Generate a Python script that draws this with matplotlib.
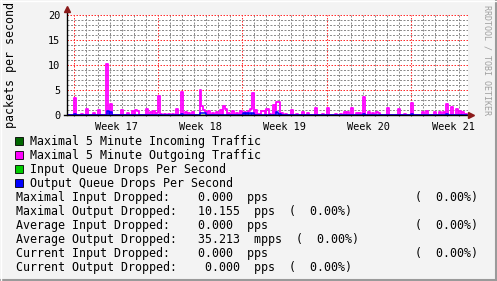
import numpy as np
import matplotlib.pyplot as plt
from matplotlib.patches import Rectangle
from matplotlib.lines import Line2D

# time axis: 2 hour samples over ~33 days (hours since graph start)
total_hours = 800
week_start_hours = [14, 182, 350, 518, 686]
week_labels = ["Week 17", "Week 18", "Week 19", "Week 20", "Week 21"]
y_ticks = [0, 5, 10, 15, 20]

# maximal 5 minute outgoing traffic (packets per second)
out_hours = [14, 28, 38, 52, 62, 78, 86, 108, 120, 130, 136, 140, 158, 166, 172,
             178, 182, 186, 194, 202, 210, 218, 228, 236, 242, 250, 266, 268, 272,
             276, 282, 290, 298, 306, 312, 316, 322, 330, 338, 346, 354, 362, 366,
             370, 376, 382, 388, 392, 398, 402, 410, 416, 420, 426, 434, 446, 456,
             468, 478, 494, 508, 518, 534, 544, 552, 558, 566, 576, 582, 590, 600,
             608, 616, 620, 638, 660, 672, 686, 708, 716, 732, 742, 750, 756, 766,
             776, 782, 788, 794]
out_values = [3.5, 0.3, 1.2, 0.4, 1.0, 10.2, 2.3, 1.1, 0.5, 0.8, 1.0, 0.8, 1.2, 0.6, 0.8,
              0.5, 3.9, 0.3, 0.3, 0.3, 0.3, 1.2, 4.7, 0.7, 0.5, 0.6, 5.0, 1.8, 1.0,
              0.6, 0.8, 0.4, 0.7, 1.0, 1.9, 1.2, 0.5, 0.8, 0.4, 0.8, 0.6, 0.8, 1.2,
              4.4, 1.0, 0.3, 0.8, 0.8, 1.3, 0.3, 2.1, 2.6, 2.7, 0.4, 0.3, 1.1, 0.2,
              0.7, 0.4, 1.5, 0.2, 1.5, 0.2, 0.2, 0.6, 0.6, 1.5, 0.5, 0.4, 3.6, 0.6,
              0.4, 0.7, 0.5, 1.5, 1.3, 0.2, 2.4, 0.6, 0.8, 0.7, 0.6, 0.6, 2.2, 1.6,
              1.2, 0.8, 0.6, 0.3]

# output queue drops per second
drop_hours = [14, 80, 86, 228, 266, 270, 274, 352, 358, 364, 370, 416, 422, 590, 686, 756]
drop_values = [0.2, 0.8, 0.6, 0.3, 0.5, 0.5, 0.4, 0.4, 0.5, 0.4, 0.4, 0.6, 0.3, 0.3, 0.3, 0.3]

legend_labels = ["Maximal 5 Minute Incoming Traffic", "Maximal 5 Minute Outgoing Traffic",
                 "Input Queue Drops Per Second", "Output Queue Drops Per Second"]
legend_colors = ["#006600", "#ff00ff", "#00cc00", "#0000ff"]

stat_lines = [
    "Maximal Input Dropped:    0.000  pps                     (  0.00%)",
    "Maximal Output Dropped:   10.155  pps  (  0.00%)",
    "Average Input Dropped:    0.000  pps                     (  0.00%)",
    "Average Output Dropped:   35.213  mpps  (  0.00%)",
    "Current Input Dropped:    0.000  pps                     (  0.00%)",
    "Current Output Dropped:    0.000  pps  (  0.00%)",
]

W, H = 497, 281
MONO = "DejaVu Sans Mono"


def fx(x):
    return x / W


def fy(y):
    return 1 - y / H


t = np.arange(0, total_hours, 2)
out_series = np.zeros(len(t))
for h, v in zip(out_hours, out_values):
    i = h // 2
    out_series[i:i + 2] = v
drop_series = np.zeros(len(t))
for h, v in zip(drop_hours, drop_values):
    i = h // 2
    drop_series[i:i + 2] = v
zero_series = np.zeros(len(t))

fig = plt.figure(figsize=(W / 100, H / 100), dpi=100, facecolor="#f3f3f3")
ax = fig.add_axes([fx(67), fy(115), fx(401), 100 / H])
ax.set_facecolor("white")
ax.set_xlim(0, total_hours)
ax.set_ylim(0, 20)
for s in ax.spines.values():
    s.set_visible(False)

# grid
day_hours = np.arange(week_start_hours[0] % 24 + 24 if week_start_hours[0] % 24 == 0 else week_start_hours[0] % 24 - 24, total_hours, 24)
for d in day_hours:
    if d > 0 and d not in week_start_hours:
        ax.axvline(d, color="#8c8c8c", lw=0.72, ls=(0, (2, 1.5)), zorder=1)
for yv in range(1, 21):
    if yv not in y_ticks:
        ax.axhline(yv, color="#8c8c8c", lw=0.72, ls=(0, (2, 1.5)), zorder=1)
for w in week_start_hours:
    ax.axvline(w, color="#ff3030", lw=0.72, ls=(0, (1.5, 1.5)), zorder=1)
for yv in y_ticks[1:]:
    ax.axhline(yv, color="#ff3030", lw=0.72, ls=(0, (1.5, 1.5)), zorder=1, clip_on=False)

# data
ax.step(t, zero_series, where="post", color="#006600", lw=1, zorder=3)
ax.step(t, out_series, where="post", color="#ff00ff", lw=1.3, zorder=4)
ax.step(t, zero_series, where="post", color="#00cc00", lw=1, zorder=5)
ax.step(t, drop_series, where="post", color="#0000ff", lw=1.1, zorder=6)

# axes with arrows
ax.plot([0, 0], [0, 21.2], color="black", lw=1, clip_on=False, zorder=7)
ax.plot([-6, total_hours + 2], [0, 0], color="black", lw=1, clip_on=False, zorder=7)
ax.plot([0], [21.3], marker="^", ms=5, color="#8b1a1a", clip_on=False, zorder=8)
ax.plot([total_hours + 6], [0], marker=">", ms=5, color="#8b1a1a", clip_on=False, zorder=8)

ax.set_xticks([w + 84 for w in week_start_hours])
ax.set_xticklabels(week_labels, family=MONO, fontsize=7.4)
ax.set_yticks(y_ticks)
ax.set_yticklabels([str(v) for v in y_ticks], family=MONO, fontsize=7.4)
ax.tick_params(axis="both", length=0, pad=5)
ax.set_xticks([d for d in day_hours if d > 0], minor=True)
ax.tick_params(axis="x", which="minor", length=2, direction="inout", color="#444444", width=0.8)

fig.text(fx(11), fy(65), "packets per second", rotation=90, ha="center", va="center",
         family=MONO, fontsize=8.4)
fig.text(fx(487), fy(60), "RRDTOOL / TOBI OETIKER", rotation=270, ha="center", va="center",
         family=MONO, fontsize=6, color="#a0a0a0")

# legend
for k, (lab, col) in enumerate(zip(legend_labels, legend_colors)):
    yc = 141 + 14 * k
    fig.add_artist(Rectangle((fx(15), fy(yc + 4)), fx(8), 8 / H, facecolor=col,
                             edgecolor="black", lw=0.6))
    fig.text(fx(30), fy(yc), lab, ha="left", va="center", family=MONO, fontsize=8.4)
for k, line in enumerate(stat_lines):
    fig.text(fx(16), fy(197 + 14 * k), line, ha="left", va="center", family=MONO, fontsize=8.4)

# 3d frame
fig.add_artist(Line2D([0, 1], [fy(280), fy(280)], color="#9a9a9a", lw=1.5))
fig.add_artist(Line2D([fx(496), fx(496)], [0, 1], color="#9a9a9a", lw=1.5))
fig.add_artist(Line2D([0, 1], [fy(0.5), fy(0.5)], color="white", lw=1))
fig.add_artist(Line2D([fx(0.5), fx(0.5)], [0, 1], color="white", lw=1))

fig.savefig("out.png", dpi=100, facecolor=fig.get_facecolor())
